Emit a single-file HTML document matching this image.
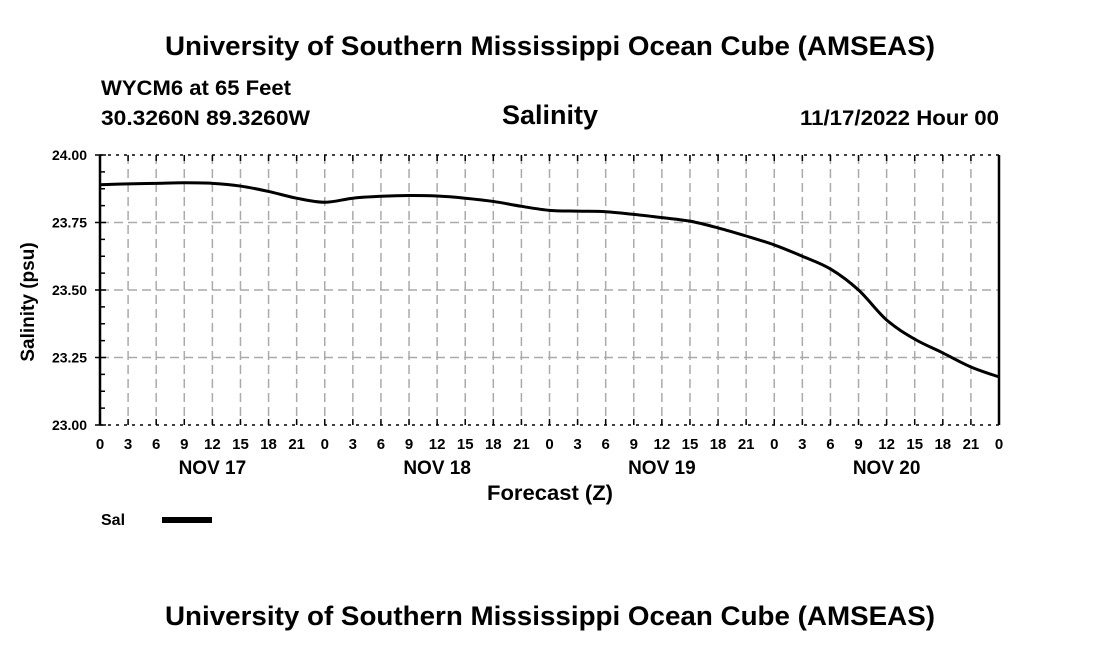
<!DOCTYPE html>
<html><head><meta charset="utf-8"><style>
body{margin:0;background:#fff;}
svg{display:block;font-family:"Liberation Sans",Arial,sans-serif;font-weight:bold;}
</style></head><body>
<svg id="chart" width="1100" height="650" viewBox="0 0 1100 650">
<text x="550" y="55" text-anchor="middle" font-size="27" textLength="770" lengthAdjust="spacingAndGlyphs">University of Southern Mississippi Ocean Cube (AMSEAS)</text>
<text x="101" y="95" font-size="21" textLength="190" lengthAdjust="spacingAndGlyphs">WYCM6 at 65 Feet</text>
<text x="101" y="125" font-size="21" textLength="209" lengthAdjust="spacingAndGlyphs">30.3260N  89.3260W</text>
<text x="550" y="124" text-anchor="middle" font-size="27" textLength="96" lengthAdjust="spacingAndGlyphs">Salinity</text>
<text x="999" y="125" text-anchor="end" font-size="21" textLength="199" lengthAdjust="spacingAndGlyphs">11/17/2022 Hour 00</text>
<g id="grid"></g>
<g id="axes"></g>
<path id="line" fill="none" stroke="#000" stroke-width="3"></path>
<text x="34" y="302" text-anchor="middle" font-size="19" transform="rotate(-90 34 302)">Salinity (psu)</text>
<text x="550" y="500" text-anchor="middle" font-size="21" textLength="126" lengthAdjust="spacingAndGlyphs">Forecast (Z)</text>
<text x="101" y="525" font-size="16">Sal</text>
<line x1="162" y1="520" x2="212" y2="520" stroke="#000" stroke-width="6"/>
<text x="550" y="625" text-anchor="middle" font-size="27" textLength="770" lengthAdjust="spacingAndGlyphs">University of Southern Mississippi Ocean Cube (AMSEAS)</text>
</svg>
<script>
const hourLabels=["0","3","6","9","12","15","18","21","0","3","6","9","12","15","18","21","0","3","6","9","12","15","18","21","0","3","6","9","12","15","18","21","0"];
const dayLabels=["NOV 17","NOV 18","NOV 19","NOV 20"];
const yTicks=[23.00,23.25,23.50,23.75,24.00];
const salinity=[23.89,23.893,23.895,23.897,23.895,23.885,23.865,23.84,23.825,23.84,23.847,23.85,23.848,23.84,23.828,23.81,23.795,23.792,23.79,23.78,23.768,23.755,23.73,23.70,23.667,23.625,23.578,23.50,23.389,23.318,23.267,23.215,23.178];
const X0=100,X1=999,Y0=155,Y1=425,YMIN=23,YMAX=24;
const xs=i=>X0+(X1-X0)*i/(hourLabels.length-1);
const ys=v=>Y1-(v-YMIN)/(YMAX-YMIN)*(Y1-Y0);
const NS="http://www.w3.org/2000/svg";
function mk(t,a,p){const e=document.createElementNS(NS,t);for(const k in a)e.setAttribute(k,a[k]);p.appendChild(e);return e;}
const grid=document.getElementById('grid'),axes=document.getElementById('axes');
hourLabels.forEach((h,i)=>{
  const x=xs(i);
  if(i>0&&i<hourLabels.length-1){const g=mk('line',{x1:x,y1:Y0,x2:x,y2:Y1,stroke:'#aaa','stroke-width':1.5,'stroke-dasharray':'9,5'},grid);
  
  }
  mk('line',{x1:x,y1:Y1,x2:x,y2:Y1-6,stroke:'#000','stroke-width':1.5},axes);
  mk('line',{x1:x,y1:Y0,x2:x,y2:Y0+6,stroke:'#000','stroke-width':1.5},axes);
  const t=mk('text',{x:x,y:449,'text-anchor':'middle','font-size':15},axes);t.textContent=h;
  
  
});
dayLabels.forEach((d,j)=>{const t=mk('text',{x:xs(j*8+4),y:474,'text-anchor':'middle','font-size':19},axes);t.textContent=d;
  
  });
yTicks.forEach((v,i)=>{
  const y=ys(v);
  if(i>0&&i<yTicks.length-1){const g=mk('line',{x1:X0,y1:y,x2:X1,y2:y,stroke:'#aaa','stroke-width':1.5,'stroke-dasharray':'9,5'},grid);
  
  }
  mk('line',{x1:X0-5,y1:y,x2:X0+6,y2:y,stroke:'#000','stroke-width':1.5},axes);
  const t=mk('text',{x:87,y:y+5,'text-anchor':'end','font-size':14},axes);t.textContent=v.toFixed(2);
  
  
  if(i<yTicks.length-1){const ym=ys(v+0.125);mk('line',{x1:X0,y1:(ym+y)/2,x2:X0+5,y2:(ym+y)/2,stroke:'#000','stroke-width':1.5},axes);
  mk('line',{x1:X0,y1:ym,x2:X0+5,y2:ym,stroke:'#000','stroke-width':1.5},axes);
  mk('line',{x1:X0,y1:(ym+ys(v+0.25))/2,x2:X0+5,y2:(ym+ys(v+0.25))/2,stroke:'#000','stroke-width':1.5},axes);}
});
mk('line',{x1:X0,y1:Y0,x2:X1,y2:Y0,stroke:'#000','stroke-width':1.5,'stroke-dasharray':'3,5'},axes);
mk('line',{x1:X0,y1:Y1,x2:X1,y2:Y1,stroke:'#000','stroke-width':1.5,'stroke-dasharray':'3,5'},axes);
mk('line',{x1:X0,y1:Y0,x2:X0,y2:Y1,stroke:'#000','stroke-width':2.5},axes);
mk('line',{x1:X1,y1:Y0,x2:X1,y2:Y1,stroke:'#000','stroke-width':2.5},axes);
const P=salinity.map((v,i)=>[xs(i),ys(v)]);
let d='M'+P[0][0]+','+P[0][1];
for(let i=0;i<P.length-1;i++){const p0=P[Math.max(0,i-1)],p1=P[i],p2=P[i+1],p3=P[Math.min(P.length-1,i+2)];
d+=' C'+(p1[0]+(p2[0]-p0[0])/6)+','+(p1[1]+(p2[1]-p0[1])/6)+' '+(p2[0]-(p3[0]-p1[0])/6)+','+(p2[1]-(p3[1]-p1[1])/6)+' '+p2[0]+','+p2[1];}
document.getElementById('line').setAttribute('d',d);
</script>
</body></html>
